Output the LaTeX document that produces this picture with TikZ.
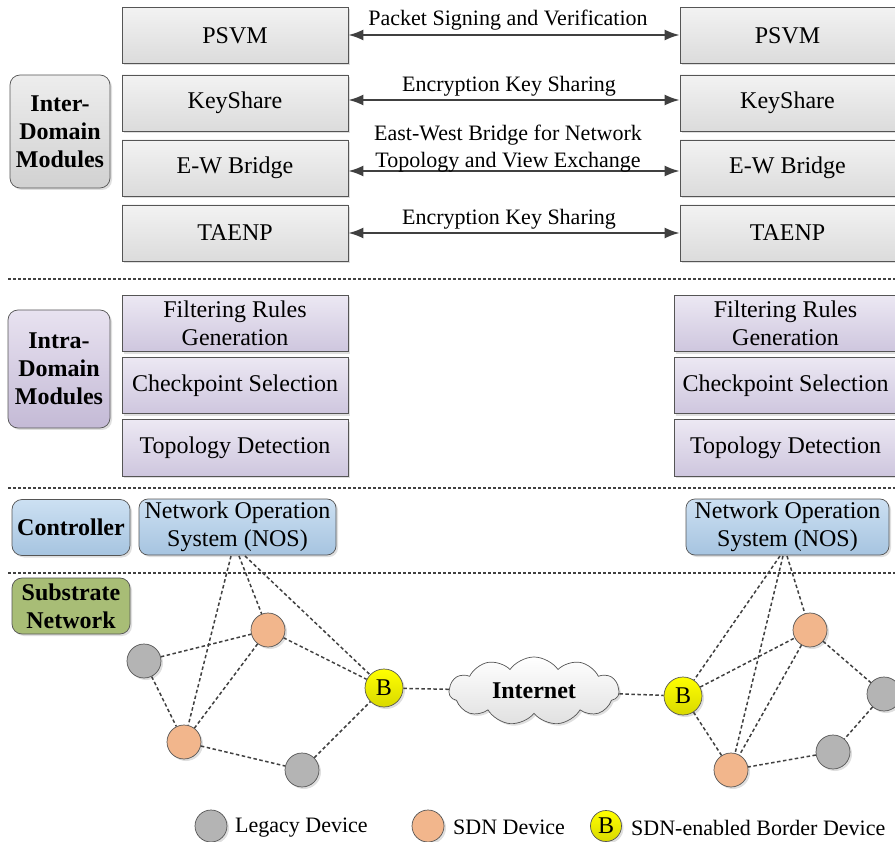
\documentclass[tikz,border=0pt]{standalone}
\usepackage{fontspec}
\setmainfont{Liberation Serif}
\usetikzlibrary{arrows.meta,shapes.symbols,shadows}
\definecolor{lineg}{HTML}{404040}
\definecolor{boxedge}{HTML}{555555}
\definecolor{legacy}{HTML}{B4B4B4}
\definecolor{sdn}{HTML}{F2B68C}
\definecolor{border}{HTML}{FFFF00}
\tikzset{
  base/.style={font=\fontsize{24}{27.5}\selectfont, align=center, inner sep=0pt},
  shadowed/.style={drop shadow={opacity=0.25, shadow xshift=2pt, shadow yshift=-2pt}},
  interbox/.style={base, draw=boxedge, line width=0.7pt, shadowed,
    top color=white!95!black, bottom color=white!86!black},
  intrabox/.style={base, draw=boxedge, line width=0.7pt, shadowed,
    top color={rgb,255:red,236;green,232;blue,243}, bottom color={rgb,255:red,206;green,198;blue,222}},
  ctrlbox/.style={base, draw=boxedge, line width=0.7pt, shadowed, rounded corners=9pt,
    top color={rgb,255:red,204;green,224;blue,242}, bottom color={rgb,255:red,166;green,196;blue,224}},
  sidebox/.style={base, draw=boxedge, line width=0.7pt, shadowed, rounded corners=10pt, font=\fontsize{24}{28}\selectfont\bfseries},
  interside/.style={sidebox, top color=white!93!black, bottom color=white!82!black},
  intraside/.style={sidebox, top color={rgb,255:red,232;green,226;blue,240}, bottom color={rgb,255:red,196;green,186;blue,214}},
  ctrlside/.style={sidebox, top color={rgb,255:red,204;green,224;blue,242}, bottom color={rgb,255:red,166;green,196;blue,224}},
  subside/.style={sidebox, fill={rgb,255:red,168;green,189;blue,118}},
  exchange/.style={lineg, line width=2pt, {Latex[length=15pt,width=11pt]}-{Latex[length=15pt,width=11pt]}},
  tier/.style={lineg, line width=1.6pt, dash pattern=on 3pt off 2pt},
  link/.style={lineg, line width=1.5pt, dash pattern=on 3.5pt off 2.5pt},
  dev/.style={base, circle, draw=boxedge, line width=0.7pt, minimum size=34pt, shadowed},
  legacydev/.style={dev, fill=legacy},
  sdndev/.style={dev, fill=sdn},
  borderdev/.style={dev, minimum size=38pt, top color=border, bottom color=border!85!black},
  lbl/.style={base, font=\fontsize{22}{27}\selectfont},
}
\begin{document}
\begin{tikzpicture}[x=1pt,y=-1pt]
\useasboundingbox (0,0) rectangle (895,842);

% ---- inter-domain modules ----
\node[interside, minimum width=100pt, minimum height=113pt] (interlbl) at (60,131.5) {Inter-\\Domain\\Modules};
\foreach \nm/\txt/\cy/\h in {psvm/PSVM/35.5/56, key/KeyShare/103/56, ew/E-W Bridge/168/56, taenp/TAENP/233/56}{
  \node[interbox, minimum width=226pt, minimum height=\h pt] (l\nm) at (235,\cy) {\txt};
  \node[interbox, minimum width=215pt, minimum height=\h pt] (r\nm) at (787.5,\cy) {\txt};
}
\draw[exchange] (lpsvm.east |- 0,35) -- (rpsvm.west |- 0,35);
\draw[exchange] (lkey.east |- 0,100) -- (rkey.west |- 0,100);
\draw[exchange] (lew.east |- 0,171) -- (rew.west |- 0,171);
\draw[exchange] (ltaenp.east |- 0,233) -- (rtaenp.west |- 0,233);
\node[lbl] (t1) at (508,20) {Packet Signing and Verification};
\node[lbl] (t2) at (509,86) {Encryption Key Sharing};
\node[lbl] (t3) at (508,148.5) {East-West Bridge for Network\\Topology and View Exchange};
\node[lbl] (t4) at (509,219) {Encryption Key Sharing};

\coordinate (s1a) at (8,279); \coordinate (s1b) at (895,279);
\draw[tier] (s1a) -- (s1b);

% ---- intra-domain modules ----
\node[intraside, minimum width=102pt, minimum height=118pt] (intralbl) at (59,369) {Intra-\\Domain\\Modules};
\foreach \nm/\txt/\cy in {frg/{Filtering Rules\\Generation}/323.5, cps/Checkpoint Selection/385.5, top/Topology Detection/448}{
  \node[intrabox, minimum width=226pt, minimum height=56.5pt] (l\nm) at (235,\cy) {\txt};
  \node[intrabox, minimum width=223pt, minimum height=56.5pt] (r\nm) at (785.5,\cy) {\txt};
}

\coordinate (s2a) at (8,488); \coordinate (s2b) at (895,488);
\draw[tier] (s2a) -- (s2b);

% ---- controller ----
\node[ctrlside, minimum width=118pt, minimum height=56pt] (ctrllbl) at (71,527.5) {Controller};
\node[ctrlbox, minimum width=197pt, minimum height=56pt] (nosl) at (237.5,527) {Network Operation\\System (NOS)};
\node[ctrlbox, minimum width=203pt, minimum height=56pt] (nosr) at (787.5,527) {Network Operation\\System (NOS)};

\coordinate (s3a) at (8,573); \coordinate (s3b) at (895,573);
\draw[tier] (s3a) -- (s3b);

% ---- substrate network ----
\node[subside, minimum width=118pt, minimum height=56pt] (sublbl) at (71,606) {Substrate\\Network};

\node[legacydev] (g1) at (144,661) {};
\node[sdndev] (o1) at (268,630) {};
\node[sdndev] (o2) at (184,742) {};
\node[legacydev] (g2) at (302,770) {};
\node[borderdev] (b1) at (384,688) {B};

\node[cloud, cloud puffs=11, cloud puff arc=110, aspect=2.6, draw=boxedge, line width=0.7pt,
  minimum width=170pt, minimum height=68pt, shadowed, top color=white, bottom color=white!88!black,
  base, font=\fontsize{24}{27}\selectfont\bfseries] (net) at (534,691) {Internet};

\node[borderdev] (b2) at (683,696) {B};
\node[sdndev] (o3) at (810,630) {};
\node[sdndev] (o4) at (731,770) {};
\node[legacydev] (g3) at (884,694) {};
\node[legacydev] (g4) at (833,752) {};

\coordinate (nl1) at (231,556); \coordinate (nl2) at (239,556); \coordinate (nl3) at (245,556);
\coordinate (nr1) at (780,556); \coordinate (nr2) at (783,556); \coordinate (nr3) at (787,556);

\draw[link] (nl1) -- (o2);
\draw[link] (nl2) -- (o1);
\draw[link] (nl3) -- (b1);
\draw[link] (g1) -- (o1);
\draw[link] (g1) -- (o2);
\draw[link] (o1) -- (o2);
\draw[link] (o1) -- (b1);
\draw[link] (o2) -- (g2);
\draw[link] (g2) -- (b1);
\draw[link] (b1) -- (net);
\draw[link] (net) -- (b2);
\draw[link] (nr1) -- (b2);
\draw[link] (nr2) -- (o4);
\draw[link] (nr3) -- (o3);
\draw[link] (b2) -- (o3);
\draw[link] (b2) -- (o4);
\draw[link] (o3) -- (o4);
\draw[link] (o3) -- (g3);
\draw[link] (g3) -- (g4);
\draw[link] (g4) -- (o4);

% ---- legend ----
\node[legacydev, minimum size=32pt, drop shadow={opacity=0}] (kg) at (211,826) {};
\node[lbl, anchor=west] (kgt) at (235,827.5) {Legacy Device};
\node[sdndev, minimum size=32pt, drop shadow={opacity=0}] (ko) at (428,826) {};
\node[lbl, anchor=west] (kot) at (453,827.5) {SDN Device};
\node[borderdev, minimum size=31pt, drop shadow={opacity=0}] (kb) at (606,826) {B};
\node[lbl, anchor=west] (kbt) at (631,827.5) {SDN-enabled Border Device};
\end{tikzpicture}
\end{document}
